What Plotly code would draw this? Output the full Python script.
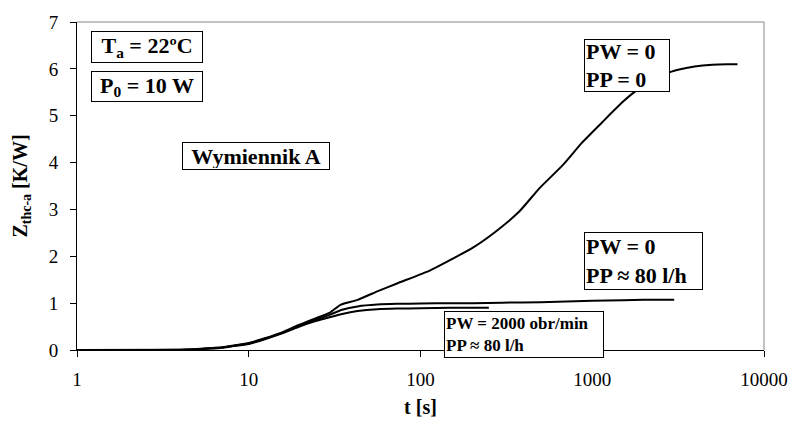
import plotly.graph_objects as go

# ---- data ----
t_pw0_pp0 = [1, 2, 4, 5, 6, 7, 8, 10, 12.4, 15.5, 19.4, 24.2, 29.5, 34.4, 43, 56, 73, 114, 142,
             203, 277, 377, 492, 671, 875, 1143, 1490, 1780, 2300, 2890, 3945, 5000, 6140, 7010]
z_pw0_pp0 = [0, 0, 0.005, 0.02, 0.04, 0.06, 0.09, 0.15, 0.25, 0.37, 0.53, 0.67, 0.79, 0.97, 1.07,
             1.25, 1.42, 1.70, 1.88, 2.19, 2.54, 2.96, 3.45, 3.94, 4.43, 4.86, 5.28, 5.52, 5.78,
             5.94, 6.05, 6.09, 6.10, 6.10]

t_pw0_pp80 = [1, 4, 5, 6, 7, 8, 10, 12.4, 15.5, 19.4, 24.2, 29.5, 35, 43, 56, 73, 100, 150, 200,
              300, 500, 1000, 1500, 2000, 3000]
z_pw0_pp80 = [0, 0.003, 0.015, 0.035, 0.055, 0.085, 0.14, 0.24, 0.36, 0.51, 0.64, 0.75, 0.86,
              0.93, 0.97, 0.985, 0.99, 1.0, 1.0, 1.01, 1.02, 1.05, 1.06, 1.07, 1.07]

t_pw2000_pp80 = [1, 4, 5, 6, 7, 8, 10, 12.4, 15.5, 19.4, 24.2, 29.5, 35, 43, 56, 73, 100, 150, 250]
z_pw2000_pp80 = [0, 0.002, 0.012, 0.03, 0.05, 0.08, 0.13, 0.23, 0.35, 0.49, 0.61, 0.70, 0.77,
                 0.83, 0.87, 0.885, 0.89, 0.90, 0.90]

x_ticks = [1, 10, 100, 1000, 10000]
x_tick_labels = ["1", "10", "100", "1000", "10000"]
y_ticks = [0, 1, 2, 3, 4, 5, 6, 7]

FONT = "Liberation Serif"
W, H = 800, 427
L, R, T, B = 77, 30, 18, 76
PW_, PH_ = W - L - R, H - T - B


def px(x):
    return (x - L) / PW_


def py(y):
    return (H - B - y) / PH_


fig = go.Figure()
for tx, zy in [(t_pw0_pp0, z_pw0_pp0), (t_pw0_pp80, z_pw0_pp80), (t_pw2000_pp80, z_pw2000_pp80)]:
    fig.add_trace(go.Scatter(x=tx, y=zy, mode="lines",
                             line=dict(color="black", width=2, shape="spline", smoothing=0.5),
                             showlegend=False, hoverinfo="skip"))

fig.update_layout(
    width=W, height=H,
    margin=dict(l=L, r=R, t=T, b=B),
    paper_bgcolor="white", plot_bgcolor="white",
    font=dict(family=FONT, color="black", size=18),
    xaxis=dict(type="log", range=[0, 4], tickvals=x_ticks, ticktext=x_tick_labels,
               showgrid=False, zeroline=False, showline=True, linecolor="black", linewidth=1,
               ticks="outside", ticklen=6, tickcolor="black", tickfont=dict(size=19, family=FONT),
               ticklabelstandoff=6,
               title=dict(text="<b>t [s]</b>", font=dict(size=20, family=FONT), standoff=11)),
    yaxis=dict(range=[0, 7], tickvals=y_ticks, showgrid=False, zeroline=False, showline=True,
               linecolor="black", linewidth=1, ticks="outside", ticklen=6, tickcolor="black",
               tickfont=dict(size=19, family=FONT), ticklabelstandoff=8,
               title=dict(text="<b>Z<sub>thc-a</sub> [K/W]</b>", font=dict(size=20, family=FONT), standoff=15)),
)

# top and right frame lines (gray)
fig.add_shape(type="line", xref="paper", yref="paper", x0=0, x1=1, y0=1, y1=1,
              line=dict(color="#888888", width=1))
fig.add_shape(type="line", xref="paper", yref="paper", x0=1, x1=1, y0=0, y1=1,
              line=dict(color="#888888", width=1))


def box(text, x0, x1, y0, y1, size, align="center"):
    fig.add_annotation(text=text, xref="paper", yref="paper",
                       x=px((x0 + x1) / 2), y=py((y0 + y1) / 2),
                       xanchor="center", yanchor="middle", showarrow=False,
                       width=x1 - x0 - 4, height=y1 - y0 - 4, align=align, valign="middle",
                       bordercolor="black", borderwidth=1, borderpad=1, bgcolor="white",
                       font=dict(family=FONT, size=size, color="black"))


box("<b>T<sub>a</sub> = 22ºC</b>", 92, 204, 27, 59, 22)
box("<b>P<sub>0</sub> = 10 W</b>", 92, 204, 68, 99, 22)
box("<b>Wymiennik A</b>", 184, 332, 140, 168, 22)
box("<b>PW = 0<br>PP = 0</b>", 589, 675, 36, 89, 22, align="left")
box("<b>PW = 0<br>PP ≈ 80 l/h</b>", 589, 708, 232, 290, 22, align="left")
box("<b>PW = 2000 obr/min<br>PP ≈ 80 l/h</b>", 448, 608, 312, 359, 17, align="left")

fig.write_html("out.html")
